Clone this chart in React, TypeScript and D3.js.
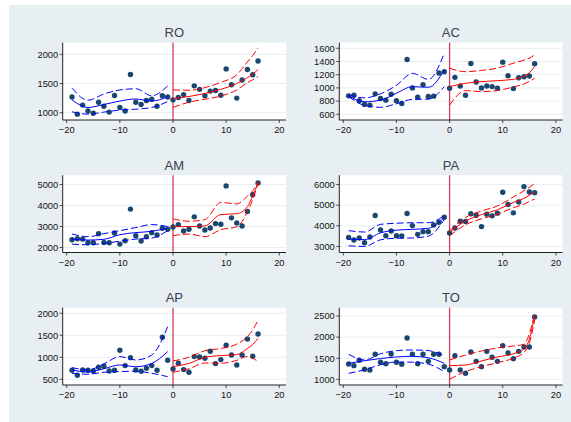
import React from 'react';
import * as d3 from 'd3';

// x positions of the observations (periods relative to the event)
const periods = [-19, -18, -17, -16, -15, -14, -13, -12, -11, -10, -9, -8, -7, -6, -5, -4, -3, -2, -1,
  0, 1, 2, 3, 4, 5, 6, 7, 8, 9, 10, 11, 12, 13, 14, 15, 16];
const xTicks = [-20, -10, 0, 10, 20];

// x positions where the fitted curves were read
const leftGrid = [-19, -16, -13, -10, -7, -4, -1];
const rightGrid = [0, 3, 6, 9, 12, 14, 15, 16];

// observed values
const roY = [1270, 975, 1130, 1030, 990, 1180, 1110, 1010, 1295, 1090, 1030, 1655, 1180, 1140, 1210, 1230, 1110, 1290, 1270,
  1220, 1260, 1310, 1210, 1460, 1400, 1290, 1370, 1380, 1300, 1750, 1480, 1250, 1560, 1740, 1650, 1885];
const acY = [880, 890, 805, 750, 740, 910, 840, 815, 905, 805, 765, 1430, 1000, 860, 1050, 870, 875, 1225, 1245,
  995, 1160, 1030, 890, 1370, 1090, 1000, 1030, 1020, 995, 1390, 1185, 990, 1155, 1170, 1180, 1365];
const amY = [2370, 2415, 2400, 2225, 2225, 2660, 2240, 2225, 2690, 2160, 2320, 3830, 2560, 2305, 2513, 2706, 2594, 2914, 2866,
  2979, 3091, 2786, 2866, 3460, 3027, 2834, 2930, 3139, 3107, 4936, 3412, 3171, 3027, 3717, 4519, 5080];
const paY = [3440, 3310, 3408, 3179, 3456, 4500, 3799, 3522, 3750, 3522, 3505, 4598, 4011, 3587, 3717, 3717, 4044, 4174, 4419,
  3652, 3897, 4223, 4207, 4582, 4516, 3962, 4565, 4484, 4614, 5625, 5038, 4630, 5152, 5902, 5641, 5609];
const apY = [705, 590, 712, 705, 689, 773, 795, 689, 705, 1159, 811, 992, 712, 682, 750, 811, 705, 1455, 932,
  735, 864, 720, 659, 1015, 1008, 977, 1136, 856, 947, 1273, 1053, 826, 1053, 1417, 1023, 1530];
const toY = [1363, 1324, 1450, 1237, 1221, 1592, 1403, 1371, 1600, 1403, 1355, 1979, 1592, 1371, 1592, 1426, 1592, 1592, 1300,
  1221, 1561, 1221, 1142, 1647, 1426, 1300, 1663, 1521, 1426, 1797, 1624, 1489, 1663, 1766, 1766, 2476];

// fitted curves + confidence bands (before: blue, after: red)
const roFitL = [1220, 1090, 1140, 1200, 1235, 1200, 1274];
const roHiL = [1420, 1215, 1320, 1390, 1410, 1290, 1457];
const roLoL = [1015, 975, 1010, 1045, 1060, 1090, 1190];
const roFitR = [1240, 1278, 1330, 1400, 1500, 1600, 1660, 1740];
const roHiR = [1390, 1385, 1430, 1520, 1650, 1870, 1980, 2110];
const roLoR = [1090, 1180, 1230, 1285, 1390, 1515, 1565, 1620];

const acFitL = [878, 790, 815, 920, 1019, 1010, 1270];
const acHiL = [893, 850, 910, 1040, 1221, 1130, 1524];
const acLoL = [868, 735, 706, 760, 827, 830, 1019];
const acFitR = [1019, 1070, 1095, 1110, 1130, 1180, 1230, 1322];
const acHiR = [1297, 1246, 1265, 1300, 1375, 1420, 1450, 1500];
const acLoR = [741, 959, 945, 960, 1015, 1060, 1100, 1145];

const amFitL = [2400, 2353, 2390, 2610, 2710, 2770, 2930];
const amHiL = [2642, 2513, 2660, 2800, 2950, 3091, 3000];
const amLoL = [2160, 2128, 2193, 2300, 2400, 2450, 2800];
const amFitR = [2995, 2995, 3030, 3570, 3610, 3950, 4450, 5100];
const amHiR = [3364, 3250, 3330, 4150, 4080, 4450, 4700, 5128];
const amLoR = [2561, 2640, 2520, 2850, 2990, 3700, 4300, 5048];

const paFitL = [3359, 3330, 3660, 3790, 3830, 3880, 4419];
const paHiL = [3766, 3700, 4070, 4125, 4150, 4150, 4500];
const paLoL = [3033, 3000, 3320, 3400, 3410, 3500, 4304];
const paFitR = [3685, 4230, 4540, 4780, 5130, 5330, 5480, 5650];
const paHiR = [3766, 4400, 4720, 4960, 5400, 5700, 5870, 6050];
const paLoR = [3522, 4050, 4340, 4560, 4880, 5050, 5180, 5300];

const apFitL = [712, 665, 740, 826, 785, 860, 1129];
const apHiL = [765, 712, 850, 1015, 939, 1050, 1697];
const apLoL = [636, 614, 659, 674, 685, 636, 560];
const apFitR = [788, 860, 1000, 1040, 1060, 1200, 1290, 1432];
const apHiR = [917, 1000, 1150, 1200, 1300, 1470, 1620, 1848];
const apLoR = [659, 740, 870, 864, 930, 1020, 980, 901];

const toFitL = [1379, 1440, 1492, 1530, 1545, 1510, 1379];
const toHiL = [1592, 1458, 1605, 1680, 1695, 1680, 1553];
const toLoL = [1142, 1225, 1345, 1410, 1405, 1360, 1182];
const toFitR = [1324, 1339, 1434, 1530, 1605, 1720, 1950, 2524];
const toHiR = [1458, 1576, 1671, 1745, 1790, 1830, 2080, 2560];
const toLoR = [1000, 1182, 1300, 1395, 1500, 1640, 1850, 2405];

const panels = [
  { name: 'RO', y: roY, domain: [875, 2199], ticks: [1000, 1500, 2000],
    left: [roFitL, roHiL, roLoL], right: [roFitR, roHiR, roLoR] },
  { name: 'AC', y: acY, domain: [514, 1685], ticks: [600, 800, 1000, 1200, 1400, 1600],
    left: [acFitL, acHiL, acLoL], right: [acFitR, acHiR, acLoR] },
  { name: 'AM', y: amY, domain: [1760, 5447], ticks: [2000, 3000, 4000, 5000],
    left: [amFitL, amHiL, amLoL], right: [amFitR, amHiR, amLoR] },
  { name: 'PA', y: paY, domain: [2707, 6454], ticks: [3000, 4000, 5000, 6000],
    left: [paFitL, paHiL, paLoL], right: [paFitR, paHiR, paLoR] },
  { name: 'AP', y: apY, domain: [370, 2127], ticks: [500, 1000, 1500, 2000],
    left: [apFitL, apHiL, apLoL], right: [apFitR, apHiR, apLoR] },
  { name: 'TO', y: toY, domain: [865, 2697], ticks: [1000, 1500, 2000, 2500],
    left: [toFitL, toHiL, toLoL], right: [toFitR, toHiR, toLoR] },
];

const FONT = '"Liberation Sans", Arial, Helvetica, sans-serif';
const DOT = '#1a476f';
const VLINE = '#d63c5c';

const Panel = ({ p, col, row }) => {
  const axisX = col === 0 ? 62.7 : 339.3;
  const plotRight = col === 0 ? 286 : 562.5;
  const top = 42.7 + row * 132.5;
  const bottom = 120 + row * 132.5;

  const x = d3.scaleLinear().domain([-20, 20]).range([axisX + 4, axisX + 216.6]);
  const y = d3.scaleLinear().domain(p.domain).range([bottom, top]);

  const line = d3.line().x(d => x(d[0])).y(d => y(d[1])).curve(d3.curveMonotoneX);
  const mk = (grid, vals) => line(grid.map((g, i) => [g, vals[i]]));

  const fits = [
    { d: mk(leftGrid, p.left[0]), c: '#0000ff', dash: null },
    { d: mk(leftGrid, p.left[1]), c: '#0000ff', dash: '7,3' },
    { d: mk(leftGrid, p.left[2]), c: '#0000ff', dash: '7,3' },
    { d: mk(rightGrid, p.right[0]), c: '#ff0000', dash: null },
    { d: mk(rightGrid, p.right[1]), c: '#ff0000', dash: '7,3' },
    { d: mk(rightGrid, p.right[2]), c: '#ff0000', dash: '7,3' },
  ];

  return (
    <g>
      <text x={(axisX + plotRight) / 2} y={top - 5.5} textAnchor="middle"
        fontFamily={FONT} fontSize={13} fill="#364152">{p.name}</text>
      <rect x={axisX} y={top} width={plotRight - axisX} height={bottom - top} fill="#ffffff" />
      {p.ticks.map(t => (
        <g key={t}>
          <line x1={axisX} x2={plotRight} y1={y(t)} y2={y(t)} stroke="#e6eef1" strokeWidth={1} />
          <line x1={axisX - 3} x2={axisX} y1={y(t)} y2={y(t)} stroke="#222" strokeWidth={0.8} />
          <text x={axisX - 4.5} y={y(t) + 3.3} textAnchor="end" fontFamily={FONT}
            fontSize={9.3} fill="#111">{t}</text>
        </g>
      ))}
      {xTicks.map(t => (
        <g key={t}>
          <line x1={x(t)} x2={x(t)} y1={bottom} y2={bottom + 3} stroke="#222" strokeWidth={0.8} />
          <text x={x(t)} y={bottom + 13} textAnchor="middle" fontFamily={FONT}
            fontSize={9.3} fill="#111">{t < 0 ? '\u2212' + Math.abs(t) : t}</text>
        </g>
      ))}
      <line x1={x(0)} x2={x(0)} y1={top} y2={bottom} stroke={VLINE} strokeWidth={1.3} />
      {p.y.map((v, i) => (
        <circle key={i} cx={x(periods[i])} cy={y(v)} r={2.7} fill={DOT} />
      ))}
      {fits.map((f, i) => (
        <path key={i} d={f.d} fill="none" stroke={f.c} strokeWidth={1}
          strokeDasharray={f.dash || undefined} />
      ))}
      <line x1={axisX} x2={plotRight} y1={bottom} y2={bottom} stroke="#222" strokeWidth={1} />
      <line x1={axisX} x2={axisX} y1={top} y2={bottom} stroke="#222" strokeWidth={1} />
    </g>
  );
};

export default function App() {
  return (
    <svg width={571} height={422} style={{ position: 'absolute', left: 0, top: 0 }}>
      <rect x={0} y={0} width={571} height={422} fill="#ffffff" />
      <rect x={9} y={5} width={562} height={417} fill="#e8eff2" />
      {panels.map((p, i) => (
        <Panel key={p.name} p={p} col={i % 2} row={Math.floor(i / 2)} />
      ))}
    </svg>
  );
}
